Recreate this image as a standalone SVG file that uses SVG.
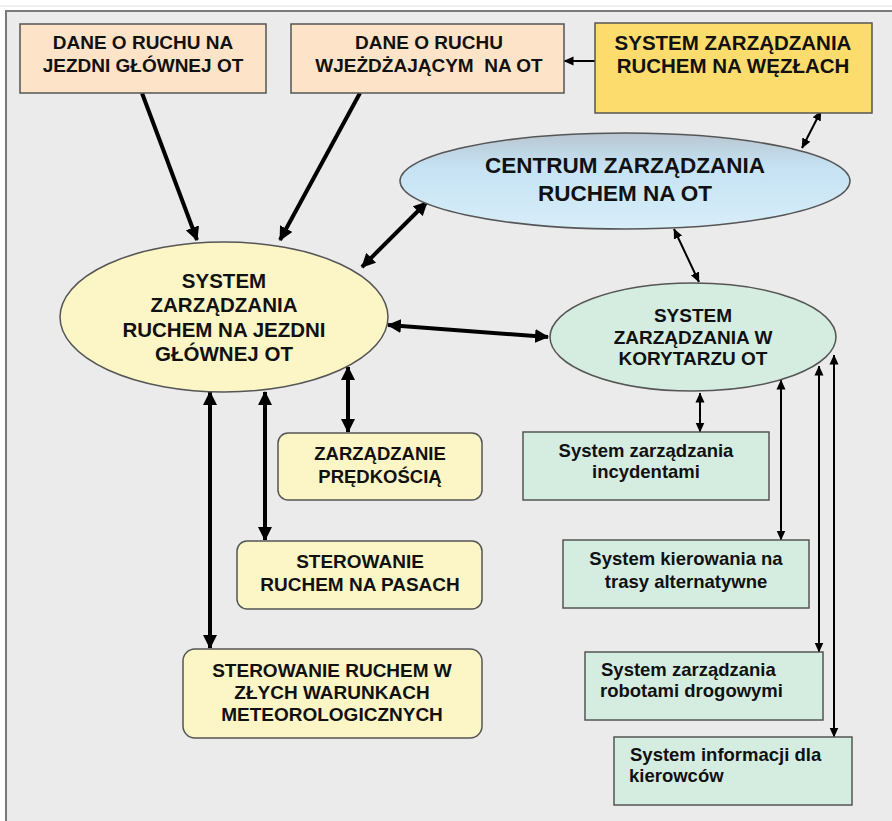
<svg xmlns="http://www.w3.org/2000/svg" width="892" height="821" viewBox="0 0 892 821">
<defs>
<style>
.t{font-family:"Liberation Sans",Arial,sans-serif;font-weight:bold;fill:#111;text-anchor:middle}
.tl{font-family:"Liberation Sans",Arial,sans-serif;font-weight:bold;fill:#111}
.box{stroke:#555;stroke-width:1.5}
.thick{stroke:#000;stroke-width:4;fill:none}
.thin{stroke:#000;stroke-width:2;fill:none}
</style>
<marker id="hb" viewBox="0 0 14 14" refX="13" refY="7" markerWidth="14" markerHeight="14" markerUnits="userSpaceOnUse" orient="auto-start-reverse"><path d="M0,0 L14,7 L0,14 z" fill="#000"/></marker>
<marker id="hs" viewBox="0 0 10 10" refX="9.5" refY="5" markerWidth="10" markerHeight="10" markerUnits="userSpaceOnUse" orient="auto-start-reverse"><path d="M0,0.5 L10,5 L0,9.5 z" fill="#000"/></marker>
<linearGradient id="gblue" x1="0" y1="0" x2="0" y2="1">
<stop offset="0" stop-color="#b8c6d0"/>
<stop offset="0.35" stop-color="#c5e2f3"/>
<stop offset="1" stop-color="#d8eef9"/>
</linearGradient>
</defs>
<rect x="0" y="0" width="892" height="821" fill="#ffffff"/>
<line x1="0" y1="6" x2="892" y2="6" stroke="#e2e2e2" stroke-width="1"/>
<rect x="6" y="11" width="900" height="830" fill="#ebebeb" stroke="#7a7a7a" stroke-width="2"/>

<g id="connectors">
<line class="thick" x1="142" y1="93" x2="197" y2="240" marker-end="url(#hb)"/>
<line class="thick" x1="360" y1="93" x2="280" y2="240" marker-end="url(#hb)"/>
<line class="thin" x1="595" y1="61" x2="564" y2="61" stroke-width="2.5" marker-end="url(#hs)"/>
<line class="thin" x1="821" y1="111" x2="802" y2="148" marker-start="url(#hs)" marker-end="url(#hs)"/>
<line class="thick" x1="427" y1="202" x2="362" y2="267" marker-start="url(#hb)" marker-end="url(#hb)"/>
<line class="thick" x1="388" y1="325" x2="548" y2="337" marker-start="url(#hb)" marker-end="url(#hb)"/>
<line class="thin" x1="674" y1="229" x2="699" y2="282" marker-start="url(#hs)" marker-end="url(#hs)"/>
<line class="thick" x1="348" y1="367" x2="348" y2="432" marker-start="url(#hb)" marker-end="url(#hb)"/>
<line class="thick" x1="265" y1="392" x2="265" y2="540" marker-start="url(#hb)" marker-end="url(#hb)"/>
<line class="thick" x1="210" y1="392" x2="210" y2="648" marker-start="url(#hb)" marker-end="url(#hb)"/>
<line class="thin" x1="700" y1="393" x2="700" y2="432" marker-start="url(#hs)" marker-end="url(#hs)"/>
<line class="thin" x1="781" y1="380" x2="781" y2="540" stroke-width="2.5" marker-start="url(#hs)" marker-end="url(#hs)"/>
<line class="thin" x1="819" y1="366" x2="819" y2="652" stroke-width="2.5" marker-start="url(#hs)" marker-end="url(#hs)"/>
<line class="thin" x1="834" y1="355" x2="834" y2="737" stroke-width="2.5" marker-start="url(#hs)" marker-end="url(#hs)"/>
</g>

<g id="dane-glowna">
<rect class="box" x="20" y="24" width="246" height="69" fill="#fde3c7"/>
<text class="t" x="143" y="49" font-size="19">DANE O RUCHU NA</text>
<text class="t" x="143" y="72" font-size="19">JEZDNI GŁÓWNEJ OT</text>
</g>

<g id="dane-wjezdzajacy">
<rect class="box" x="291" y="24" width="273" height="69" fill="#fde3c7"/>
<text class="t" x="429" y="49" font-size="19">DANE O RUCHU</text>
<text class="t" x="429" y="72" font-size="19" xml:space="preserve">WJEŻDŻAJĄCYM  NA OT</text>
</g>

<g id="wezly">
<rect class="box" x="595" y="23" width="277" height="90" fill="#fcdc6c"/>
<text class="t" x="733" y="50" font-size="20.5">SYSTEM ZARZĄDZANIA</text>
<text class="t" x="733" y="73" font-size="20.5">RUCHEM NA WĘZŁACH</text>
</g>

<g id="centrum">
<ellipse cx="625" cy="181" rx="225" ry="48" fill="url(#gblue)" stroke="#555" stroke-width="1.5"/>
<text class="t" x="625" y="173" font-size="22.5">CENTRUM ZARZĄDZANIA</text>
<text class="t" x="625" y="201" font-size="22.5">RUCHEM NA OT</text>
</g>

<g id="jezdnia-glowna">
<ellipse cx="224" cy="317" rx="164" ry="75" fill="#fcf6c6" stroke="#555" stroke-width="1.5"/>
<text class="t" x="224" y="288" font-size="20.5">SYSTEM</text>
<text class="t" x="224" y="312" font-size="20.5">ZARZĄDZANIA</text>
<text class="t" x="224" y="337" font-size="20.5">RUCHEM NA JEZDNI</text>
<text class="t" x="224" y="361" font-size="20.5">GŁÓWNEJ OT</text>
</g>

<g id="korytarz">
<ellipse cx="693" cy="337" rx="143" ry="54" fill="#d5ede1" stroke="#555" stroke-width="1.5"/>
<text class="t" x="693" y="322" font-size="19">SYSTEM</text>
<text class="t" x="693" y="344" font-size="19">ZARZĄDZANIA W</text>
<text class="t" x="693" y="365" font-size="19">KORYTARZU OT</text>
</g>

<g id="predkosc">
<rect class="box" x="278" y="433" width="204" height="67" rx="10" fill="#fcf6c6"/>
<text class="t" x="380" y="460" font-size="18.5">ZARZĄDZANIE</text>
<text class="t" x="380" y="483" font-size="18.5">PRĘDKOŚCIĄ</text>
</g>

<g id="pasy">
<rect class="box" x="237" y="541" width="245" height="68" rx="10" fill="#fcf6c6"/>
<text class="t" x="360" y="568" font-size="19">STEROWANIE</text>
<text class="t" x="360" y="591" font-size="19">RUCHEM NA PASACH</text>
</g>

<g id="meteo">
<rect class="box" x="183" y="649" width="299" height="89" rx="12" fill="#fcf6c6"/>
<text class="t" x="332" y="677" font-size="19">STEROWANIE RUCHEM W</text>
<text class="t" x="332" y="699" font-size="19">ZŁYCH WARUNKACH</text>
<text class="t" x="332" y="721" font-size="19">METEOROLOGICZNYCH</text>
</g>

<g id="incydenty">
<rect class="box" x="523" y="432" width="246" height="68" fill="#d5ede1"/>
<text class="t" x="646" y="457" font-size="18.5">System zarządzania</text>
<text class="t" x="646" y="478" font-size="18.5">incydentami</text>
</g>

<g id="trasy">
<rect class="box" x="563" y="540" width="246" height="68" fill="#d5ede1"/>
<text class="t" x="686" y="565" font-size="18.5">System kierowania na</text>
<text class="t" x="686" y="588" font-size="18.5">trasy alternatywne</text>
</g>

<g id="roboty">
<rect class="box" x="585" y="652" width="238" height="68" fill="#d5ede1"/>
<text class="tl" x="601" y="676" font-size="18.5">System zarządzania</text>
<text class="tl" x="600" y="697" font-size="18.5">robotami drogowymi</text>
</g>

<g id="informacja">
<rect class="box" x="614" y="737" width="238" height="68" fill="#d5ede1"/>
<text class="tl" x="630" y="761" font-size="18.5">System informacji dla</text>
<text class="tl" x="629" y="782" font-size="18.5">kierowców</text>
</g>
</svg>
